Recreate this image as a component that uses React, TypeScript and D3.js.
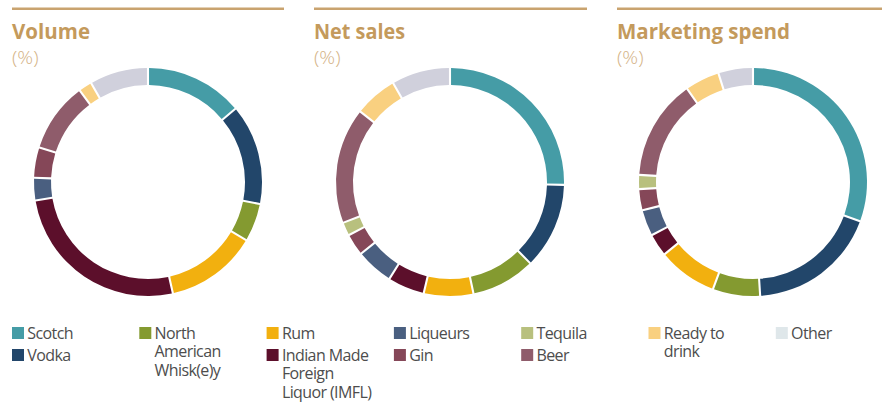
import React from "react";
import * as d3 from "d3";

const categories = [
  "Scotch",
  "Vodka",
  "North American Whisk(e)y",
  "Rum",
  "Indian Made Foreign Liquor (IMFL)",
  "Liqueurs",
  "Gin",
  "Tequila",
  "Beer",
  "Ready to drink",
  "Other",
];
const volume = [13.9, 14.2, 5.4, 13.0, 25.9, 3.2, 4.3, 0, 9.9, 1.9, 8.3];
const netSales = [25.4, 12.2, 9.1, 7.0, 5.2, 5.3, 3.1, 1.9, 16.4, 6.1, 8.3];
const marketingSpend = [30.6, 18.4, 6.7, 8.4, 3.2, 3.7, 3.0, 2.0, 14.2, 4.9, 4.9];
const panelTitles = ["Volume", "Net sales", "Marketing spend"];
const panelUnit = "(%)";

const arcColors = [
  "#459ca6",
  "#22466a",
  "#849a30",
  "#f2b00f",
  "#5c0f2b",
  "#4a5f80",
  "#854758",
  "#b8c07e",
  "#8f5c6b",
  "#f9d080",
  "#d0d0dc",
];
const legendColors = arcColors.map((c, i) => (i === 10 ? "#dfe7ea" : c));

// legend wrapping lines per category
const legendLines = [
  ["Scotch"],
  ["Vodka"],
  ["North", "American", "Whisk(e)y"],
  ["Rum"],
  ["Indian Made", "Foreign", "Liquor (IMFL)"],
  ["Liqueurs"],
  ["Gin"],
  ["Tequila"],
  ["Beer"],
  ["Ready to", "drink"],
  ["Other"],
];
// [column, row] slot of each legend item
const legendSlots = [
  [0, 0], [0, 1], [1, 0], [2, 0], [2, 1], [3, 0], [3, 1], [4, 0], [4, 1], [5, 0], [6, 0],
];

const W = 882;
const H = 403;
const gold = "#c49a5c";
const goldLight = "#d4b386";

const panels = [
  { data: volume, cx: 148, lineX0: 12, lineX1: 284 },
  { data: netSales, cx: 450, lineX0: 314, lineX1: 587 },
  { data: marketingSpend, cx: 753, lineX0: 617, lineX1: 882 },
];

const titleWidths = [78, 91, 173];

export default function App() {
  const cy = 182;
  const pie = d3
    .pie<{ v: number; i: number }>()
    .value((d) => d.v)
    .sort(null)
    .startAngle(0)
    .endAngle(2 * Math.PI);
  const arc = d3
    .arc<d3.PieArcDatum<{ v: number; i: number }>>()
    .innerRadius(97)
    .outerRadius(114)
    .padAngle(0.014);

  const colX = d3.scaleLinear().domain([0, 1]).range([12, 139.3]);
  const rowY = [327, 349];

  return (
    <svg
      width={W}
      height={H}
      style={{ position: "absolute", left: 0, top: 0, background: "#fff" }}
      fontFamily="'Open Sans', 'Noto Sans', sans-serif"
    >
      {panels.map((p, pi) => {
        const items = p.data.map((v, i) => ({ v, i })).filter((d) => d.v > 0);
        const arcs = pie(items);
        return (
          <g key={pi}>
            <line
              x1={p.lineX0}
              x2={p.lineX1}
              y1={8.8}
              y2={8.8}
              stroke="#c9a36f"
              strokeWidth={2.6}
            />
            <text
              x={p.lineX0}
              y={39.3}
              fill={gold}
              fontSize={22}
              fontWeight={700}
              textLength={titleWidths[pi]}
              lengthAdjust="spacingAndGlyphs"
            >
              {panelTitles[pi]}
            </text>
            <text
              x={p.lineX0}
              y={64}
              fill={goldLight}
              fontSize={18}
              fontWeight={300}
              textLength={26.5}
              lengthAdjust="spacingAndGlyphs"
            >
              {panelUnit}
            </text>
            <g transform={`translate(${p.cx},${cy})`}>
              {arcs.map((a) => (
                <path key={a.data.i} d={arc(a) || ""} fill={arcColors[a.data.i]} />
              ))}
            </g>
          </g>
        );
      })}
      <g>
        {categories.map((c, i) => {
          const [col, row] = legendSlots[i];
          const x = colX(col);
          const y = rowY[row];
          return (
            <g key={c}>
              <rect x={x} y={y} width={12} height={12} fill={legendColors[i]} />
              <text
                x={x + 15.3}
                y={y + 11.5}
                fontSize={16}
                fill="#4d4d4d"
                letterSpacing={-0.6}
              >
                {legendLines[i].map((ln, li) => (
                  <tspan key={li} x={x + 15.3} dy={li === 0 ? 0 : 18.8}>
                    {ln}
                  </tspan>
                ))}
              </text>
            </g>
          );
        })}
      </g>
    </svg>
  );
}
